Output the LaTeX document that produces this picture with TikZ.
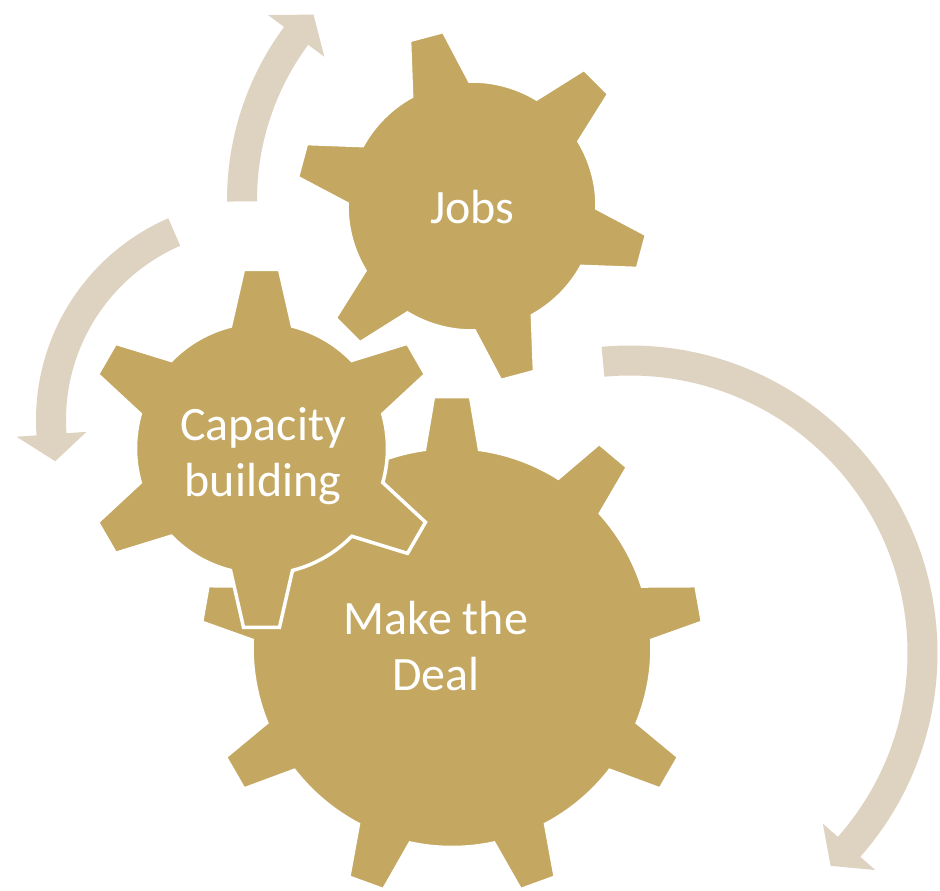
\documentclass[tikz,border=0pt]{standalone}
\usepackage{fontspec}
\setmainfont{Carlito}

\definecolor{gearfill}{HTML}{C4A862}
\definecolor{arrowfill}{HTML}{DED3C0}

% gear: centre, teeth, first tooth angle, body radius, tip radius, base half width, tip half width
\newcommand{\gearwheel}[7]{%
  \pgfmathsetmacro{\gstep}{360/#2}%
  \pgfmathsetmacro{\gdb}{asin(#6/#4)}%
  \pgfmathsetmacro{\gdt}{atan(#7/#5)}%
  \pgfmathsetmacro{\gro}{#5/cos(\gdt)}%
  \pgfmathtruncatemacro{\glast}{#2-1}%
  \filldraw[gear, shift={#1}] ({#3-\gdb}:#4)
    \foreach \k [evaluate=\k as \ga using #3+\k*\gstep,
                 evaluate=\k as \gsa using #3+\k*\gstep+\gdb,
                 evaluate=\k as \gea using #3+(\k+1)*\gstep-\gdb] in {0,...,\glast} {
      -- ({\ga-\gdt}:\gro) -- ({\ga+\gdt}:\gro) -- (\gsa:#4)
      arc[start angle=\gsa, end angle=\gea, radius=#4]
    } -- cycle;
}

% circular arrow: centre, mid radius, tail angle, head angle, tip angle
\newcommand{\cyclearrow}[5]{%
  \pgfmathsetmacro{\aro}{#2+15}%
  \pgfmathsetmacro{\ari}{#2-15}%
  \pgfmathsetmacro{\abo}{#2+35}%
  \pgfmathsetmacro{\abi}{#2-35}%
  \fill[cycarrow, shift={#1}] (#3:\aro) arc[start angle=#3, end angle=#4, radius=\aro]
    -- (#4:\abo) -- (#5:#2) -- (#4:\abi) -- (#4:\ari)
    arc[start angle=#4, end angle=#3, radius=\ari] -- cycle;
}

\begin{document}
\begin{tikzpicture}[x=0.02cm, y=0.02cm]
    % Stili
    \tikzstyle{gear}=[fill=gearfill, draw=white, line width=0.07cm]
    \tikzstyle{cycarrow}=[fill=arrowfill]
    \tikzstyle{gearlabel}=[text=white, font=\fontsize{27.3}{31.7}\selectfont, align=center]

    \useasboundingbox[fill=white] (0,0) rectangle (940,-890);

    % Ingranaggi
    \gearwheel{(452,-647.5)}{9}{90}{200}{251}{27.5}{18.5}
    \gearwheel{(472,-206)}{6}{105}{125}{176}{30}{17.5}
    \gearwheel{(261.5,-448.3)}{6}{90}{126}{179}{31}{18}

    % Frecce circolari
    \cyclearrow{(518,-200)}{276}{180.3}{143.5}{137.8}
    \cyclearrow{(256,-420)}{205}{113.5}{184}{191.6}
    \cyclearrow{(630,-653)}{292.5}{95.3}{-41.5}{-46.7}

    % Etichette
    \node[gearlabel, anchor=base] (jobs) at (472.5,-223) {Jobs};
    \node[gearlabel] (capacity) at (263,-456) {Capacity\\building};
    \node[gearlabel] (deal) at (436,-646) {Make the\\Deal};
\end{tikzpicture}
\end{document}
